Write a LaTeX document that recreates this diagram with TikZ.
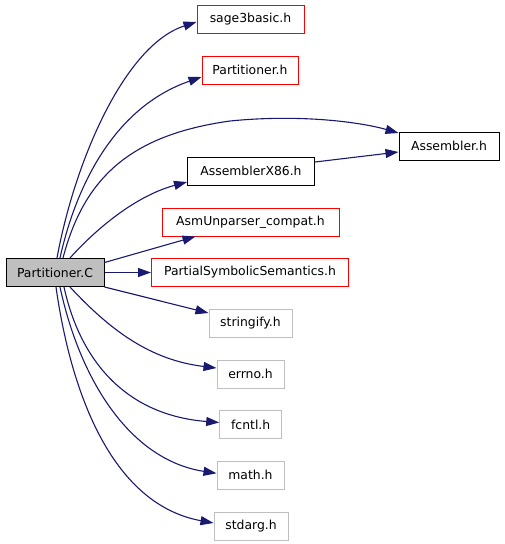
\documentclass[tikz,border=0pt]{standalone}
\usepackage{fontspec}
\setmainfont{DejaVu Sans}
\usetikzlibrary{arrows.meta}
\definecolor{edgeblue}{HTML}{191970}
\definecolor{sysgray}{HTML}{BFBFBF}
\definecolor{redbox}{HTML}{FF0000}
\begin{document}
\begin{tikzpicture}[x=1pt,y=-1pt,
  box/.style={draw,line width=1pt,inner sep=0pt,minimum height=28pt,font=\fontsize{12.4}{14}\selectfont,fill=white},
  redh/.style={box,draw=redbox},
  blackh/.style={box,draw=black},
  grayh/.style={box,draw=sysgray},
  edge/.style={draw=edgeblue,line width=1.1pt,-{Triangle[length=13pt,width=9pt]}}]
\useasboundingbox (0,0) rectangle (504,544);
\node[box,draw=black,fill=sysgray,minimum width=98pt] (pc) at (55,272.5) {Partitioner.C};
\node[redh,minimum width=107pt] (sage) at (250.5,19) {sage3basic.h};
\node[redh,minimum width=96pt] (ph) at (250,70) {Partitioner.h};
\node[blackh,minimum width=100pt] (asm) at (449,146) {Assembler.h};
\node[blackh,minimum width=127pt] (ax) at (251,171) {AssemblerX86.h};
\node[redh,minimum width=177pt] (aup) at (250.5,222) {AsmUnparser\_compat.h};
\node[redh,minimum width=197pt] (pss) at (250,272.5) {PartialSymbolicSemantics.h};
\node[grayh,minimum width=83pt] (str) at (250.5,323) {stringify.h};
\node[grayh,minimum width=67pt] (err) at (250.5,374) {errno.h};
\node[grayh,minimum width=62pt] (fcn) at (250.7,424.5) {fcntl.h};
\node[grayh,minimum width=67pt] (mth) at (250.5,475.3) {math.h};
\node[grayh,minimum width=74pt] (sta) at (251,526) {stdarg.h};

\draw[edge] ([xshift=2pt]pc.north) .. controls (75,160) and (125,45) .. ([yshift=-3pt]sage.west);
\draw[edge] ([xshift=5pt]pc.north) .. controls (75,190) and (112,108) .. ([yshift=-7pt]ph.west);
\draw[edge] ([xshift=8pt]pc.north) .. controls (84,178) and (130,135) .. (230,121) .. controls (300,114) and (360,122) .. ([yshift=13pt]asm.west);
\draw[edge] ([xshift=15pt]pc.north) .. controls (95,230) and (135,196) .. ([yshift=-11pt]ax.west);
\draw[edge] (ax.east |- 0,162) -- ([yshift=-6pt]asm.west);
\draw[edge] ([yshift=10pt]pc.east) -- ([xshift=-55pt]aup.south);
\draw[edge] (pc.east) -- (pss.west);
\draw[edge] (pc.south east) -- ([yshift=10pt]str.west);
\draw[edge] ([xshift=15pt]pc.south) .. controls (110,330) and (150,360) .. ([yshift=6pt]err.west);
\draw[edge] ([xshift=9pt]pc.south) .. controls (80,360) and (125,415) .. ([yshift=2pt]fcn.west);
\draw[edge] ([xshift=5pt]pc.south) .. controls (80,380) and (130,460) .. ([yshift=2pt]mth.west);
\draw[edge] ([xshift=1pt]pc.south) .. controls (72,400) and (115,505) .. ([yshift=3pt]sta.west);
\end{tikzpicture}
\end{document}
